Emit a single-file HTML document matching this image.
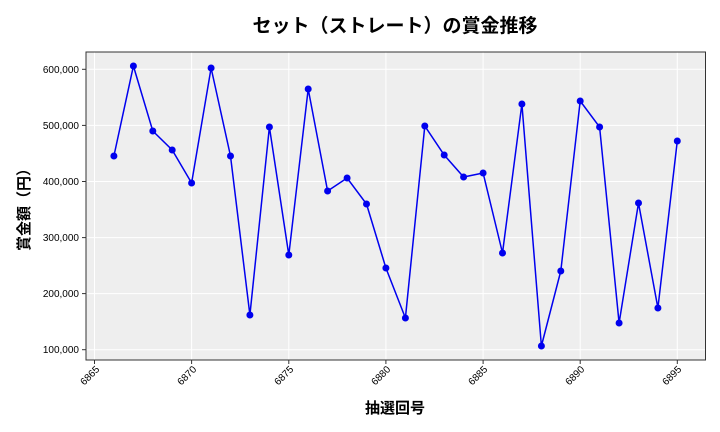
<!DOCTYPE html>
<html><head><meta charset="utf-8"><style>body{margin:0;background:#fff}svg{display:block}text{font-family:"Liberation Sans","Noto Sans CJK JP",sans-serif}</style></head><body>
<svg width="720" height="432" xmlns="http://www.w3.org/2000/svg">
<rect x="86" y="52" width="619.5" height="308" fill="#eeeeee"/>
<g stroke="#fff" stroke-width="1">
<line x1="94.5" y1="52" x2="94.5" y2="360"/><line x1="191.6" y1="52" x2="191.6" y2="360"/><line x1="288.8" y1="52" x2="288.8" y2="360"/><line x1="385.9" y1="52" x2="385.9" y2="360"/><line x1="483.1" y1="52" x2="483.1" y2="360"/><line x1="580.2" y1="52" x2="580.2" y2="360"/><line x1="677.3" y1="52" x2="677.3" y2="360"/>
<line x1="86" y1="69.3" x2="705.5" y2="69.3"/><line x1="86" y1="125.4" x2="705.5" y2="125.4"/><line x1="86" y1="181.5" x2="705.5" y2="181.5"/><line x1="86" y1="237.6" x2="705.5" y2="237.6"/><line x1="86" y1="293.6" x2="705.5" y2="293.6"/><line x1="86" y1="349.7" x2="705.5" y2="349.7"/>
</g>
<rect x="86" y="52" width="619.5" height="308" fill="none" stroke="#333" stroke-width="1"/>
<g stroke="#333"><line x1="82" y1="69.3" x2="86" y2="69.3"/><line x1="82" y1="125.4" x2="86" y2="125.4"/><line x1="82" y1="181.5" x2="86" y2="181.5"/><line x1="82" y1="237.6" x2="86" y2="237.6"/><line x1="82" y1="293.6" x2="86" y2="293.6"/><line x1="82" y1="349.7" x2="86" y2="349.7"/>
<line x1="94.5" y1="360" x2="94.5" y2="364"/><line x1="191.6" y1="360" x2="191.6" y2="364"/><line x1="288.8" y1="360" x2="288.8" y2="364"/><line x1="385.9" y1="360" x2="385.9" y2="364"/><line x1="483.1" y1="360" x2="483.1" y2="364"/><line x1="580.2" y1="360" x2="580.2" y2="364"/><line x1="677.3" y1="360" x2="677.3" y2="364"/></g>
<g font-size="10" text-anchor="end" fill="#000">
<text x="79" y="73">600,000</text><text x="79" y="129">500,000</text><text x="79" y="185">400,000</text><text x="79" y="241">300,000</text><text x="79" y="297">200,000</text><text x="79" y="353">100,000</text></g>
<g font-size="10" text-anchor="end" fill="#000">
<text transform="translate(100,370) rotate(-45)">6865</text><text transform="translate(197,370) rotate(-45)">6870</text><text transform="translate(294,370) rotate(-45)">6875</text><text transform="translate(391,370) rotate(-45)">6880</text><text transform="translate(488,370) rotate(-45)">6885</text><text transform="translate(585,370) rotate(-45)">6890</text><text transform="translate(682,370) rotate(-45)">6895</text></g>
<text x="395" y="32" font-size="19" font-weight="bold" text-anchor="middle">セット（ストレート）の賞金推移</text>
<text x="395" y="413" font-size="15" font-weight="bold" text-anchor="middle">抽選回号</text>
<text transform="translate(29,206) rotate(-90)" font-size="15" font-weight="bold" text-anchor="middle">賞金額（円）</text>
<polyline fill="none" stroke="#0000ee" stroke-width="1.5" points="113.9,156 133.4,66 152.8,131 172.2,150 191.6,183 211.1,68 230.5,156 249.9,315 269.4,127 288.8,255 308.2,89 327.6,191 347.1,178 366.5,204 385.9,268 405.4,318 424.8,126 444.2,155 463.6,177 483.1,173 502.5,253 521.9,104 541.4,346 560.8,271 580.2,101 599.6,127 619.1,323 638.5,203 657.9,308 677.3,141"/>
<g fill="#0000ee"><circle cx="113.9" cy="156" r="3.5"/><circle cx="133.4" cy="66" r="3.5"/><circle cx="152.8" cy="131" r="3.5"/><circle cx="172.2" cy="150" r="3.5"/><circle cx="191.6" cy="183" r="3.5"/><circle cx="211.1" cy="68" r="3.5"/><circle cx="230.5" cy="156" r="3.5"/><circle cx="249.9" cy="315" r="3.5"/><circle cx="269.4" cy="127" r="3.5"/><circle cx="288.8" cy="255" r="3.5"/><circle cx="308.2" cy="89" r="3.5"/><circle cx="327.6" cy="191" r="3.5"/><circle cx="347.1" cy="178" r="3.5"/><circle cx="366.5" cy="204" r="3.5"/><circle cx="385.9" cy="268" r="3.5"/><circle cx="405.4" cy="318" r="3.5"/><circle cx="424.8" cy="126" r="3.5"/><circle cx="444.2" cy="155" r="3.5"/><circle cx="463.6" cy="177" r="3.5"/><circle cx="483.1" cy="173" r="3.5"/><circle cx="502.5" cy="253" r="3.5"/><circle cx="521.9" cy="104" r="3.5"/><circle cx="541.4" cy="346" r="3.5"/><circle cx="560.8" cy="271" r="3.5"/><circle cx="580.2" cy="101" r="3.5"/><circle cx="599.6" cy="127" r="3.5"/><circle cx="619.1" cy="323" r="3.5"/><circle cx="638.5" cy="203" r="3.5"/><circle cx="657.9" cy="308" r="3.5"/><circle cx="677.3" cy="141" r="3.5"/></g>
</svg>
</body></html>
